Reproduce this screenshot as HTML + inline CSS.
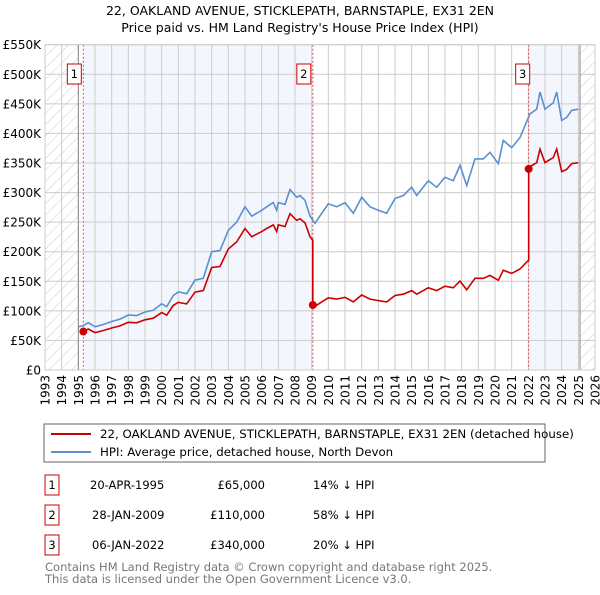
<!DOCTYPE html>
<html><head><meta charset="utf-8"><style>
body{margin:0;background:#fff;font-family:"Liberation Sans","DejaVu Sans",sans-serif;}
svg text{font-family:"DejaVu Sans","Liberation Sans",sans-serif;}
</style></head><body>
<svg id="c" width="600" height="590" xmlns="http://www.w3.org/2000/svg">
<defs><pattern id="hatch" width="8" height="8" patternUnits="userSpaceOnUse" patternTransform="rotate(45)"><line x1="0" y1="0" x2="0" y2="8" stroke="#ccc" stroke-width="1"/></pattern></defs>
<text x="300" y="15" text-anchor="middle" font-size="12.5" fill="#000">22, OAKLAND AVENUE, STICKLEPATH, BARNSTAPLE, EX31 2EN</text>
<text x="300" y="32" text-anchor="middle" font-size="12.5" fill="#000">Price paid vs. HM Land Registry's House Price Index (HPI)</text>
<g id="plot"></g>
<g>
<rect x="44" y="424" width="501" height="38" fill="#fff" stroke="#666"/>
<line x1="51" y1="434" x2="91" y2="434" stroke="#cc0000" stroke-width="2"/>
<text x="100" y="438" font-size="11.8">22, OAKLAND AVENUE, STICKLEPATH, BARNSTAPLE, EX31 2EN (detached house)</text>
<line x1="51" y1="452" x2="91" y2="452" stroke="#5b8fd0" stroke-width="2"/>
<text x="100" y="456" font-size="11.8">HPI: Average price, detached house, North Devon</text>
</g>
<g font-size="11.5">
<rect x="45" y="475" width="14" height="20" fill="#fff" stroke="#cc0000"/><text x="52" y="489" text-anchor="middle">1</text>
<text x="90" y="489">20-APR-1995</text><text x="265" y="489" text-anchor="end">£65,000</text><text x="313" y="489">14% ↓ HPI</text>
<rect x="45" y="505" width="14" height="20" fill="#fff" stroke="#cc0000"/><text x="52" y="519" text-anchor="middle">2</text>
<text x="92" y="519">28-JAN-2009</text><text x="265" y="519" text-anchor="end">£110,000</text><text x="313" y="519">58% ↓ HPI</text>
<rect x="45" y="535" width="14" height="20" fill="#fff" stroke="#cc0000"/><text x="52" y="549" text-anchor="middle">3</text>
<text x="92" y="549">06-JAN-2022</text><text x="265" y="549" text-anchor="end">£340,000</text><text x="313" y="549">20% ↓ HPI</text>
</g>
<text x="45" y="571" font-size="11.5" fill="#777">Contains HM Land Registry data © Crown copyright and database right 2025.</text>
<text x="45" y="583" font-size="11.5" fill="#777">This data is licensed under the Open Government Licence v3.0.</text>
</svg>
<script>
const hpiYears=[1995.0,1995.3,1995.6,1996.0,1996.5,1997.0,1997.5,1998.0,1998.5,1999.0,1999.5,2000.0,2000.3,2000.7,2001.0,2001.5,2002.0,2002.5,2003.0,2003.5,2004.0,2004.5,2005.0,2005.4,2006.0,2006.3,2006.7,2006.9,2007.0,2007.4,2007.7,2008.1,2008.3,2008.6,2008.9,2009.2,2009.6,2010.0,2010.5,2011.0,2011.5,2012.0,2012.5,2013.0,2013.5,2014.0,2014.5,2015.0,2015.3,2016.0,2016.5,2017.0,2017.5,2017.9,2018.3,2018.8,2019.3,2019.7,2020.2,2020.5,2021.0,2021.5,2021.9,2022.1,2022.5,2022.7,2023.0,2023.5,2023.7,2024.0,2024.3,2024.6,2025.0];
const hpiValues=[73,75,80,73,77,82,86,93,92,98,101,112,107,126,132,129,152,155,200,202,236,250,276,260,270,276,283,270,283,280,305,292,295,287,260,248,265,281,276,283,265,292,276,270,265,290,295,309,295,320,309,326,320,346,312,357,357,368,349,388,376,393,420,433,441,470,441,452,470,422,427,439,441];
const saleYears=[1995.3,2009.07,2022.02];
const salePrices=[65,110,340];
const yTicks=[0,50,100,150,200,250,300,350,400,450,500,550];
const yTickLabels=["£0","£50K","£100K","£150K","£200K","£250K","£300K","£350K","£400K","£450K","£500K","£550K"];
const xTickYears=[];for(let y=1993;y<=2026;y++)xTickYears.push(y);
const X0=45,X1=595,Y0=370,Y1=44.7;
const xs=y=>X0+(y-1993)/(2026-1993)*(X1-X0);
const ys=v=>Y0-v/550*(Y0-Y1);
const NS="http://www.w3.org/2000/svg";
const g=document.getElementById('plot');
function mk(t,a,p){const e=document.createElementNS(NS,t);for(const k in a)e.setAttribute(k,a[k]);(p||g).appendChild(e);return e;}
function hpiAt(y){for(let i=1;i<hpiYears.length;i++){if(y<=hpiYears[i]){const t=(y-hpiYears[i-1])/(hpiYears[i]-hpiYears[i-1]);return hpiValues[i-1]+t*(hpiValues[i]-hpiValues[i-1]);}}return hpiValues[hpiValues.length-1];}
let r=mk('rect',{x:X0,y:Y1,width:X1-X0,height:Y0-Y1,fill:'#fff'});


r=mk('rect',{x:xs(1995.3),y:Y1,width:xs(2009.07)-xs(1995.3),height:Y0-Y1,fill:'#eef3fc',opacity:0.7});


r=mk('rect',{x:xs(2022.02),y:Y1,width:xs(2025.1)-xs(2022.02),height:Y0-Y1,fill:'#eef3fc',opacity:0.7});


r=mk('rect',{x:X0,y:Y1,width:xs(1995.0)-X0,height:Y0-Y1,fill:'url(#hatch)'});


r=mk('rect',{x:xs(2025.1),y:Y1,width:X1-xs(2025.1),height:Y0-Y1,fill:'url(#hatch)'});


yTicks.forEach((v,i)=>{
 const l=mk('line',{x1:X0,x2:X1,y1:ys(v),y2:ys(v),stroke:'#ccc','stroke-width':1});
 
 
 const t=mk('text',{x:X0-4,y:ys(v)+4.5,'text-anchor':'end','font-size':12});
 t.textContent=yTickLabels[i];
 
 
});
xTickYears.forEach(y=>{
 const l=mk('line',{x1:xs(y),x2:xs(y),y1:Y1,y2:Y0,stroke:'#ccc','stroke-width':1});
 
 
 const t=mk('text',{x:0,y:0,'text-anchor':'end','font-size':12,transform:`translate(${xs(y)+4.5},${Y0+5}) rotate(-90)`});
 t.textContent=y;
 
 
});
r=mk('line',{x1:xs(1995.0),x2:xs(1995.0),y1:Y1,y2:Y0,stroke:'#888','stroke-width':1});


r=mk('line',{x1:xs(2025.1),x2:xs(2025.1),y1:Y1,y2:Y0,stroke:'#888','stroke-width':1});


saleYears.forEach((y,i)=>{
 const l=mk('line',{x1:xs(y),x2:xs(y),y1:Y1,y2:Y0,stroke:'#e05050','stroke-width':1,'stroke-dasharray':'2,2'});
 
 
 const bx=xs(y)-(i==2?6:9);
 const b=mk('rect',{x:bx-7,y:64,width:14,height:20,fill:'#fff',stroke:'#cc0000'});
 
 
 const t=mk('text',{x:bx,y:78,'text-anchor':'middle','font-size':11.5});
 t.textContent=i+1;
 
 
});
let d='';hpiYears.forEach((y,i)=>{d+=(i?'L':'M')+xs(y).toFixed(1)+','+ys(hpiValues[i]).toFixed(1);});
r=mk('path',{d:d,fill:'none',stroke:'#5b8fd0','stroke-width':1.6});


const ratios=saleYears.map((y,i)=>salePrices[i]/hpiAt(y));
let pd='';
for(let s=0;s<saleYears.length;s++){
 const start=saleYears[s],end=s+1<saleYears.length?saleYears[s+1]:2025.0;
 const pts=[start].concat(hpiYears.filter(y=>y>start&&y<end));
 pts.push(end);
 pts.forEach(y=>{pd+=(pd===''?'M':'L')+xs(y).toFixed(1)+','+ys(hpiAt(y)*ratios[s]).toFixed(1);});
}
r=mk('path',{d:pd,fill:'none',stroke:'#cc0000','stroke-width':1.6});


saleYears.forEach((y,i)=>{
 const c=mk('circle',{cx:xs(y),cy:ys(salePrices[i]),r:4,fill:'#cc0000'});
 
 
});
r=mk('rect',{x:X0,y:Y1,width:X1-X0,height:Y0-Y1,fill:'none',stroke:'#ccc'});


</script>
</body></html>
